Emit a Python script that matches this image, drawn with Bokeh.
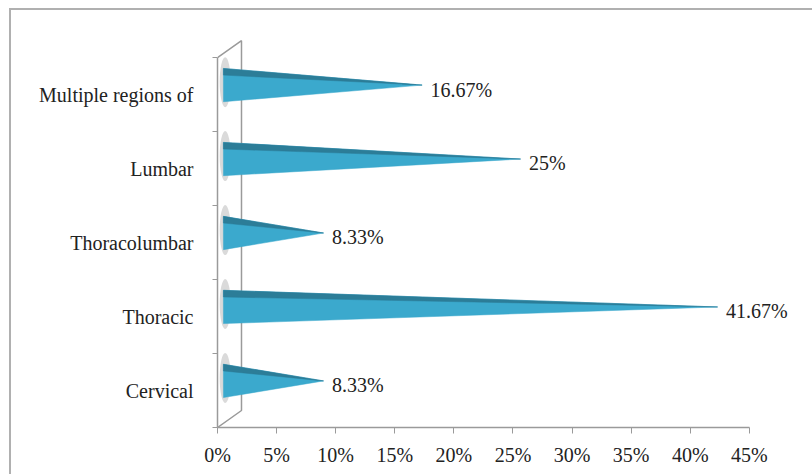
from bokeh.plotting import figure
from bokeh.models import Range1d, FixedTicker
from bokeh.core.properties import value
from bokeh.embed import file_html
from bokeh.resources import INLINE

# ---- data ----
categories = ["Cervical", "Thoracic", "Thoracolumbar", "Lumbar", "Multiple regions of"]
percentages = [8.33, 41.67, 8.33, 25, 16.67]
value_labels = ["8.33%", "41.67%", "8.33%", "25%", "16.67%"]
x_ticks = [0, 5, 10, 15, 20, 25, 30, 35, 40, 45]
x_tick_labels = ["0%", "5%", "10%", "15%", "20%", "25%", "30%", "35%", "40%", "45%"]

FONT = "Liberation Serif"
MAIN = "#3BA9CD"
DARK = "#2C7D98"
AXIS = "#9a9a9a"

n = len(categories)
p = figure(width=812, height=474, output_backend="svg", toolbar_location=None,
           x_range=Range1d(0, 50.34), y_range=Range1d(0, 5.26),
           min_border_left=217, min_border_right=0, min_border_top=38, min_border_bottom=47)
p.outline_line_color = None
p.grid.grid_line_color = None
p.background_fill_color = "white"
p.border_fill_color = None
p.styles = {
    "background": "linear-gradient(#b0b0b0, #b0b0b0) 9px 8px / 100% 2px no-repeat, "
                  "linear-gradient(#b0b0b0, #b0b0b0) 9px 8px / 2px 100% no-repeat, white"
}

# x axis
xa = p.xaxis[0]
xa.ticker = FixedTicker(ticks=x_ticks, minor_ticks=[])
xa.major_label_overrides = {t: l for t, l in zip(x_ticks, x_tick_labels)}
xa.bounds = (x_ticks[0], x_ticks[-1])
xa.axis_line_color = AXIS
xa.axis_line_width = 1.5
xa.major_tick_line_color = AXIS
xa.major_tick_out = 6
xa.major_tick_in = 0
xa.minor_tick_line_color = None
xa.major_label_standoff = 10
xa.major_label_text_font = FONT
xa.major_label_text_font_size = "20px"
xa.major_label_text_color = "#222222"

# y axis (categories centred in bands, ticks at band boundaries)
centers = [i + 0.5 for i in range(n)]
ya = p.yaxis[0]
ya.ticker = FixedTicker(ticks=centers, minor_ticks=list(range(n + 1)))
ya.major_label_overrides = {c: cat for c, cat in zip(centers, categories)}
ya.bounds = (0, n)
ya.axis_line_color = AXIS
ya.axis_line_width = 1.5
ya.major_tick_line_color = None
ya.major_tick_out = 0
ya.major_tick_in = 0
ya.minor_tick_line_color = AXIS
ya.minor_tick_out = 5
ya.minor_tick_in = 0
ya.major_label_standoff = 19
ya.major_label_text_font = FONT
ya.major_label_text_font_size = "20px"
ya.major_label_text_color = "#222222"

# 3D back wall
dx, dy = 2.03, 0.23
p.line(x=[0, dx, dx, 0], y=[n, n + dy, dy, 0], line_color=AXIS, line_width=1.5)

# cones
half = 0.225
shift = 0.13
base_x = 0.5
tip_dx = 0.64
for i, v in enumerate(percentages):
    yc = i + 0.5 + shift
    tip = v + tip_dx
    p.ellipse(x=[base_x + 0.15], y=[yc + 0.04], width=11, height=50,
              width_units="screen", height_units="screen",
              fill_color="#555555", fill_alpha=0.22, line_color=None)
    p.patch(x=[base_x, tip, base_x], y=[yc + half, yc, yc - half],
            fill_color=MAIN, line_color=MAIN, line_width=0.5)
    p.patch(x=[base_x, tip, base_x], y=[yc + half, yc, yc + half - 0.09],
            fill_color=DARK, line_color=DARK, line_width=0.5)

# value labels
p.text(x=percentages, y=[c + 0.07 for c in centers], text=value_labels,
       x_offset=16, text_baseline="middle", text_align="left",
       text_font=value(FONT), text_font_size="20px", text_color="#222222")

open("out.html", "w").write(file_html(p, INLINE))
